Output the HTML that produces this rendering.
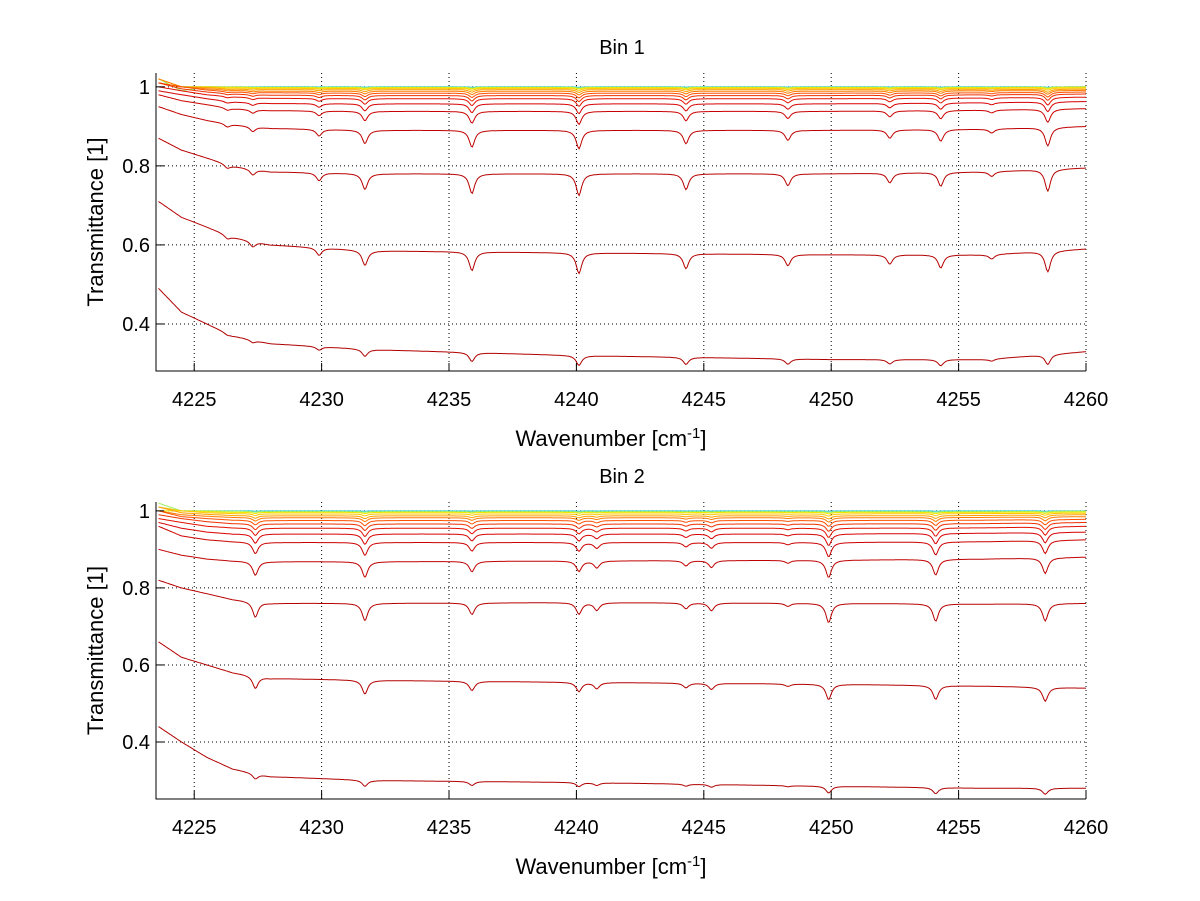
<!DOCTYPE html>
<html><head><meta charset="utf-8"><style>
html,body{margin:0;padding:0;background:#fff;}
svg{display:block;font-family:"Liberation Sans",sans-serif;}
</style></head><body>
<svg id="fig" width="1200" height="901" viewBox="0 0 1200 901" xmlns="http://www.w3.org/2000/svg">
<rect width="1200" height="901" fill="#fff"/>
</svg>
<script>
// ---------- data ----------
const xTicks = [4225, 4230, 4235, 4240, 4245, 4250, 4255, 4260];
const yTicks = [0.4, 0.6, 0.8, 1];
const yTickLabels = ["0.4", "0.6", "0.8", "1"];
const knotX = [4223.6, 4224.5, 4225.5, 4226.5, 4228, 4232, 4240, 4250, 4256, 4260];

// Bin 1 absorption lines (position, depth on reference curve)
const bin1LinePos = [4226.3, 4227.3, 4229.9, 4231.7, 4235.9, 4240.1, 4244.3, 4248.3, 4252.3, 4254.3, 4256.3, 4258.5];
const bin1LineDepth = [0.01, 0.015, 0.02, 0.04, 0.05, 0.055, 0.04, 0.03, 0.025, 0.035, 0.012, 0.055];
const bin1Baselines = [
 [0.49,0.43,0.40,0.37,0.35,0.335,0.32,0.31,0.31,0.33],
 [0.71,0.67,0.645,0.62,0.60,0.585,0.58,0.575,0.575,0.59],
 [0.87,0.84,0.82,0.80,0.785,0.78,0.78,0.78,0.785,0.795],
 [0.95,0.93,0.915,0.905,0.895,0.89,0.89,0.89,0.893,0.90],
 [0.98,0.965,0.955,0.945,0.94,0.938,0.938,0.938,0.941,0.945],
 [0.99,0.98,0.97,0.962,0.958,0.957,0.957,0.957,0.96,0.963],
 [1.0,0.99,0.98,0.975,0.971,0.97,0.97,0.97,0.972,0.974],
 [1.01,0.995,0.987,0.982,0.979,0.978,0.978,0.978,0.98,0.982],
 [1.01,1.0,0.992,0.987,0.985,0.984,0.984,0.984,0.985,0.987],
 [1.02,1.0,0.995,0.991,0.989,0.989,0.989,0.989,0.99,0.991],
 [1.01,1.0,0.998,0.994,0.993,0.993,0.993,0.993,0.993,0.994],
 [1.02,1.0,0.999,0.997,0.996,0.996,0.996,0.996,0.996,0.997],
 [1.01,1.0,1.0,0.999,0.998,0.998,0.998,0.998,0.998,0.999],
 [1.02,0.99,1.0,1.0,0.999,0.999,0.999,0.999,0.999,1.0],
 [1.01,1.0,1.0,1.0,1.0,1.0,1.0,1.0,1.0,1.0]
];
const bin1DipScale = [0.45,0.95,1.0,0.85,0.6,0.45,0.35,0.28,0.22,0.17,0.13,0.09,0.06,0.04,0.02];

// Bin 2 absorption lines
const bin2LinePos = [4227.4, 4231.7, 4235.9, 4240.1, 4240.8, 4244.3, 4245.3, 4248.3, 4249.9, 4254.1, 4258.4];
const bin2LineDepth = [0.04, 0.045, 0.03, 0.03, 0.02, 0.015, 0.02, 0.008, 0.05, 0.045, 0.045];
const bin2Baselines = [
 [0.44,0.40,0.36,0.33,0.31,0.30,0.295,0.285,0.28,0.28],
 [0.66,0.62,0.60,0.58,0.565,0.56,0.555,0.55,0.545,0.54],
 [0.82,0.80,0.785,0.77,0.76,0.76,0.762,0.76,0.758,0.76],
 [0.90,0.885,0.875,0.87,0.868,0.868,0.87,0.872,0.875,0.88],
 [0.96,0.935,0.925,0.92,0.918,0.918,0.918,0.918,0.92,0.925],
 [0.97,0.955,0.945,0.94,0.94,0.94,0.94,0.94,0.942,0.945],
 [0.98,0.97,0.96,0.956,0.955,0.955,0.955,0.955,0.956,0.96],
 [0.99,0.98,0.972,0.967,0.966,0.966,0.966,0.966,0.967,0.97],
 [1.0,0.985,0.98,0.976,0.975,0.975,0.975,0.975,0.976,0.978],
 [1.0,0.99,0.986,0.983,0.982,0.982,0.982,0.982,0.983,0.985],
 [1.01,0.995,0.991,0.988,0.987,0.987,0.987,0.987,0.988,0.99],
 [1.01,1.0,0.995,0.993,0.992,0.992,0.992,0.992,0.993,0.994],
 [1.0,1.0,0.998,0.996,0.996,0.996,0.996,0.996,0.996,0.997],
 [1.02,1.0,1.0,0.999,0.998,0.998,0.998,0.998,0.998,0.999],
 [1.01,1.0,1.0,1.0,1.0,1.0,1.0,1.0,1.0,1.0]
];
const bin2DipScale = [0.35,0.8,1.0,0.9,0.75,0.6,0.48,0.38,0.3,0.22,0.16,0.11,0.07,0.04,0.02];

const curveColors = ["#b00000","#b40000","#b80000","#c00000","#cc0000","#d80000","#e41000","#f03000",
 "#ff5000","#ff7a00","#ffa000","#ffc800","#f0e800","#a0f060","#30d0e0"];

// ---------- drawing ----------
const NS = "http://www.w3.org/2000/svg";
const svg = document.getElementById("fig");
function mk(tag, attrs, parent) {
  const e = document.createElementNS(NS, tag);
  for (const k in attrs) e.setAttribute(k, attrs[k]);
  (parent || svg).appendChild(e);
  return e;
}
function interp(xs, ys, x) {
  if (x <= xs[0]) return ys[0];
  for (let i = 1; i < xs.length; i++) if (x <= xs[i]) {
    const t = (x - xs[i-1]) / (xs[i] - xs[i-1]);
    return ys[i-1] + t * (ys[i] - ys[i-1]);
  }
  return ys[ys.length-1];
}
function drawPanel(p) {
  const g = mk("g", {});
  
  
  const xMin = 4223.5, xMax = 4260;
  const sx = v => p.L + (v - xMin) / (xMax - xMin) * (p.R - p.L);
  const sy = v => p.B - (v - p.yMin) / (p.yMax - p.yMin) * (p.B - p.T);
  xTicks.forEach(t => {
    const l = mk("line", {x1: sx(t), x2: sx(t), y1: p.T, y2: p.B, stroke: "#000", "stroke-width": 1, "stroke-dasharray": "1,3"}, g);
    
    
  });
  yTicks.forEach(t => {
    const l = mk("line", {x1: p.L, x2: p.R, y1: sy(t), y2: sy(t), stroke: "#000", "stroke-width": 1, "stroke-dasharray": "1,3"}, g);
    
    
  });
  const N = 730;
  for (let c = p.base.length - 1; c >= 0; c--) {
    const pts = [];
    for (let i = 0; i <= N; i++) {
      const x = 4223.6 + (xMax - 4223.6) * i / N;
      let y = interp(knotX, p.base[c], x);
      for (let k = 0; k < p.lp.length; k++) {
        const d = (x - p.lp[k]) / 0.13;
        y -= p.ld[k] * p.scale[c] / (1 + d * d);
      }
      pts.push(sx(x).toFixed(1) + "," + sy(y).toFixed(1));
    }
    const pl = mk("polyline", {points: pts.join(" "), fill: "none", stroke: curveColors[c], "stroke-width": 1}, g);
    
    
  }
  const ax = mk("path", {d: `M${p.L},${p.T} V${p.B} H${p.R}`, fill: "none", stroke: "#000", "stroke-width": 1}, g);
  
  
  xTicks.forEach(t => {
    mk("line", {x1: sx(t), x2: sx(t), y1: p.B, y2: p.B - 8, stroke: "#000"}, g);
    const tx = mk("text", {x: sx(t), y: p.B + 35, "text-anchor": "middle", "font-size": 20}, g);
    tx.textContent = t;
    
    
  });
  yTicks.forEach((t, i) => {
    mk("line", {x1: p.L, x2: p.L + 8, y1: sy(t), y2: sy(t), stroke: "#000"}, g);
    const tx = mk("text", {x: p.L - 6, y: sy(t) + 7, "text-anchor": "end", "font-size": 20}, g);
    tx.textContent = yTickLabels[i];
    
    
  });
  const ti = mk("text", {x: (p.L + p.R) / 2 + 1, y: p.T - 19, "text-anchor": "middle", "font-size": 20}, g);
  ti.textContent = p.title;
  
  
  const xl = mk("text", {x: (p.L + p.R) / 2 - 10, y: p.B + 75, "text-anchor": "middle", "font-size": 22}, g);
  xl.innerHTML = 'Wavenumber [cm<tspan dy="-8" font-size="15">-1</tspan><tspan dy="8">]</tspan>';
  
  
  const yl = mk("text", {x: 0, y: 0, "text-anchor": "middle", "font-size": 22, transform: `translate(103,${(p.T + p.B) / 2}) rotate(-90)`}, g);
  yl.textContent = "Transmittance [1]";
  
  
}
drawPanel({name: "bin-1-chart", title: "Bin 1", L: 156, R: 1086, T: 73, B: 371, yMin: 0.281, yMax: 1.035,
  base: bin1Baselines, scale: bin1DipScale, lp: bin1LinePos, ld: bin1LineDepth});
drawPanel({name: "bin-2-chart", title: "Bin 2", L: 156, R: 1086, T: 502, B: 799, yMin: 0.252, yMax: 1.023,
  base: bin2Baselines, scale: bin2DipScale, lp: bin2LinePos, ld: bin2LineDepth});
</script>
</body></html>
